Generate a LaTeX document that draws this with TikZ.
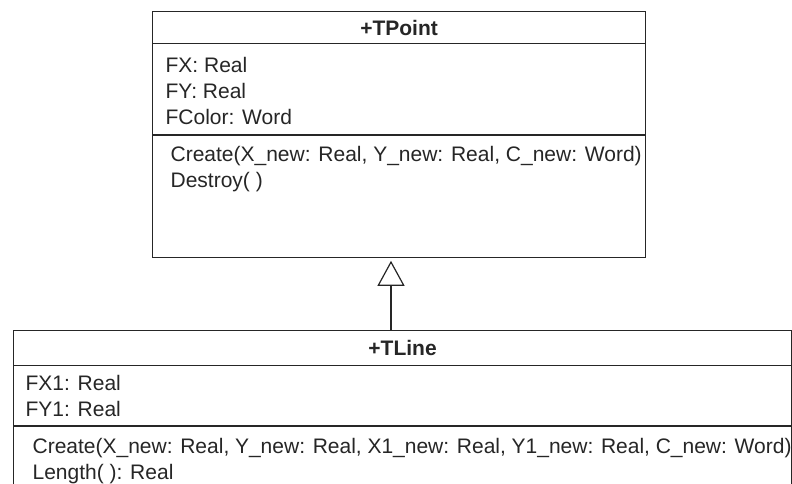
\documentclass[tikz,border=0pt]{standalone}
\usepackage{fontspec}
\setmainfont{Liberation Sans}
\usepackage{tikz}
\usetikzlibrary{arrows.meta}
\usetikzlibrary{shapes.multipart}

\newcommand{\clstitle}[3]{\parbox[c][#2][c]{#1}{\centering\bfseries #3}}
\newcommand{\clsbody}[5]{\parbox[c][#2][t]{#1}{\raggedright\leftskip=#3\relax\vspace*{#4}#5}}

\begin{document}
\begin{tikzpicture}[x=1pt,y=-1pt]
\tikzstyle{class} = [rectangle split, rectangle split parts=3, draw=black!85, line width=1.2pt,
  inner sep=0pt, anchor=north west, text=black!85, font=\fontsize{21}{26}\selectfont]
\tikzstyle{inherit} = [line width=1.2pt, draw=black!85, -{Triangle[open,length=25pt,width=27pt]}, shorten >=3pt]
\useasboundingbox[fill=white] (0,0) rectangle (792,484);
\node[class] (tpoint) at (152,11) {\clstitle{493pt}{31pt}{+TPoint}%
    \nodepart{two}\clsbody{493pt}{90pt}{13pt}{13pt}{FX: Real\\FY: Real\\FColor: Word}%
    \nodepart{three}\clsbody{493pt}{121pt}{18pt}{11pt}{Create(X\_new: Real, Y\_new: Real, C\_new: Word)\\Destroy( )}%
    };
\node[class] (tline) at (13,330) {\clstitle{778pt}{34pt}{+TLine}%
    \nodepart{two}\clsbody{778pt}{59pt}{12pt}{8.5pt}{FX1: Real\\FY1: Real}%
    \nodepart{three}\clsbody{778pt}{59pt}{19pt}{12pt}{Create(X\_new: Real, Y\_new: Real, X1\_new: Real, Y1\_new: Real, C\_new: Word)\\Length( ): Real}%
    };
% Vererbung TLine -> TPoint
\coordinate (hook) at (391,0);
\draw[inherit] (tline.north -| hook) -- (tpoint.south -| hook);
\end{tikzpicture}
\end{document}
